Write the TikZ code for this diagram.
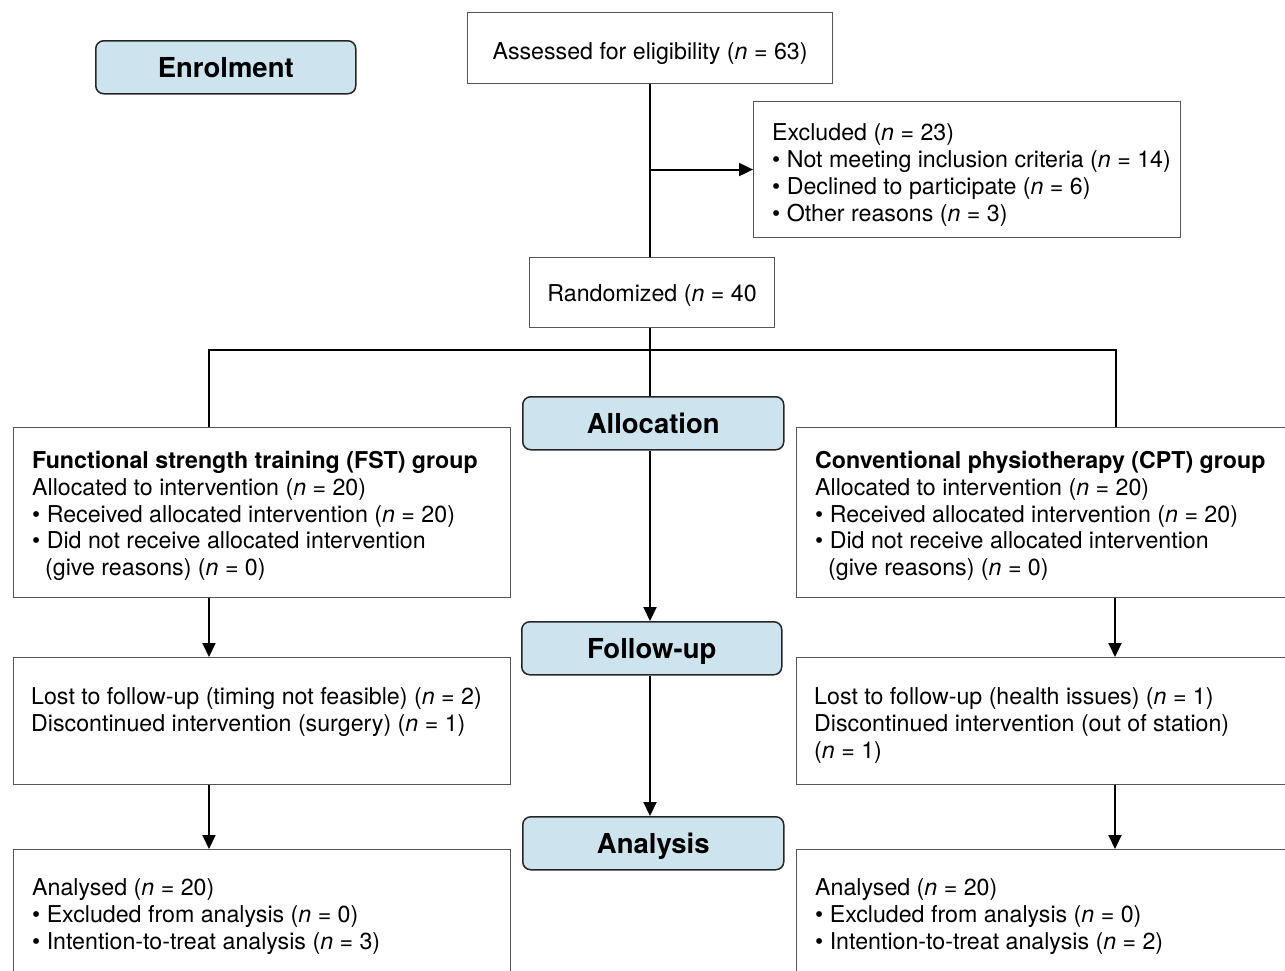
\documentclass[tikz,border=0pt]{standalone}
\usepackage{fontspec}
\setmainfont{TeX Gyre Heros}
\usetikzlibrary{arrows.meta}
\newcommand{\nn}{\textit{n}}
\newcommand{\bul}{\textbullet\ }
\definecolor{phase}{HTML}{CDE4EF}
\definecolor{boxline}{HTML}{555555}
\begin{document}
\begin{tikzpicture}[x=1pt,y=-1pt,
 box/.style={draw=boxline, line width=1.1pt, anchor=north west, inner sep=0pt, font=\fontsize{23.2}{26.7}\selectfont},
 phasebox/.style={draw=black!85, fill=phase, rounded corners=8pt, line width=1.5pt, anchor=north west, inner sep=0pt, text height=20pt, text depth=0pt, font=\fontsize{27.5}{33}\selectfont\bfseries},
 txt/.style={anchor=west, align=left, inner sep=0pt, font=\fontsize{23.2}{26.7}\selectfont},
 conn/.style={line width=2pt, black},
 arr/.style={conn, -{Triangle[length=14pt,width=13pt]}},
]
\useasboundingbox (0,0) rectangle (1285,970);
\clip (0,0) rectangle (1285,970);

% phase labels
\node[phasebox, minimum width=260pt, minimum height=53pt] (enrol) at (95,40) {Enrolment};
\node[phasebox, minimum width=261pt, minimum height=53pt] (alloc) at (522,396) {Allocation};
\node[phasebox, minimum width=260pt, minimum height=53pt] (follow) at (521,621) {Follow-up};
\node[phasebox, minimum width=261pt, minimum height=53pt] (analysis) at (522,816) {Analysis};

% boxes
\node[box, minimum width=365pt, minimum height=71pt, text height=22pt, text depth=0pt] (assess) at (467,12) {Assessed for eligibility (\nn{} = 63)};
\node[box, minimum width=427pt, minimum height=136pt] (excl) at (753,101) {};
\node[box, minimum width=245pt, minimum height=70pt, text height=18pt, text depth=0pt] (random) at (529,257) {Randomized (\nn{} = 40};
\node[box, minimum width=497pt, minimum height=170pt] (fst) at (13,427) {};
\node[box, minimum width=520pt, minimum height=170pt] (cpt) at (796,427) {};
\node[box, minimum width=497pt, minimum height=127pt] (lostL) at (13,657) {};
\node[box, minimum width=520pt, minimum height=127pt] (lostR) at (796,657) {};
\node[box, minimum width=497pt, minimum height=160pt] (anaL) at (13,849) {};
\node[box, minimum width=520pt, minimum height=160pt] (anaR) at (796,849) {};

% texts
\node[txt] (exclT) at (772,175) {Excluded (\nn{} = 23)\\ \bul Not meeting inclusion criteria (\nn{} = 14)\\ \bul Declined to participate (\nn{} = 6)\\ \bul Other reasons (\nn{} = 3)};
\node[txt] (fstT) at (32,516) {\textbf{Functional strength training (FST) group}\\ Allocated to intervention (\nn{} = 20)\\ \bul Received allocated intervention (\nn{} = 20)\\ \bul Did not receive allocated intervention\\ \hspace*{13pt}(give reasons) (\nn{} = 0)};
\node[txt] (cptT) at (815,516) {\textbf{Conventional physiotherapy (CPT) group}\\ Allocated to intervention (\nn{} = 20)\\ \bul Received allocated intervention (\nn{} = 20)\\ \bul Did not receive allocated intervention\\ \hspace*{13pt}(give reasons) (\nn{} = 0)};
\node[txt] (lostLT) at (31,712) {Lost to follow-up (timing not feasible) (\nn{} = 2)\\ Discontinued intervention (surgery) (\nn{} = 1)};
\node[txt] (lostRT) at (814,725.5) {Lost to follow-up (health issues) (\nn{} = 1)\\ Discontinued intervention (out of station)\\ (\nn{} = 1)};
\node[txt] (anaLT) at (32,916.5) {Analysed (\nn{} = 20)\\ \bul Excluded from analysis (\nn{} = 0)\\ \bul Intention-to-treat analysis (\nn{} = 3)};
\node[txt] (anaRT) at (815,916.5) {Analysed (\nn{} = 20)\\ \bul Excluded from analysis (\nn{} = 0)\\ \bul Intention-to-treat analysis (\nn{} = 2)};

% connectors
\coordinate (split) at (650,350);
\coordinate (splitL) at (209,350);
\coordinate (splitR) at (1116,350);
\coordinate (colL) at (209,0);
\coordinate (colR) at (1115,0);
\draw[conn] (split |- assess.south) -- (split |- random.north);
\draw[arr] (split |- excl.west) -- (excl.west);
\draw[conn] (split |- random.south) -- (split) -- (split |- alloc.north);
\draw[conn] (splitL |- fst.north) -- (splitL) -- (splitR) -- (splitR |- cpt.north);
\draw[arr] (split |- alloc.south) -- (split |- follow.north);
\draw[arr] (split |- follow.south) -- (split |- analysis.north);
\draw[arr] (colL |- fst.south) -- (colL |- lostL.north);
\draw[arr] (colL |- lostL.south) -- (colL |- anaL.north);
\draw[arr] (colR |- cpt.south) -- (colR |- lostR.north);
\draw[arr] (colR |- lostR.south) -- (colR |- anaR.north);
\end{tikzpicture}
\end{document}
